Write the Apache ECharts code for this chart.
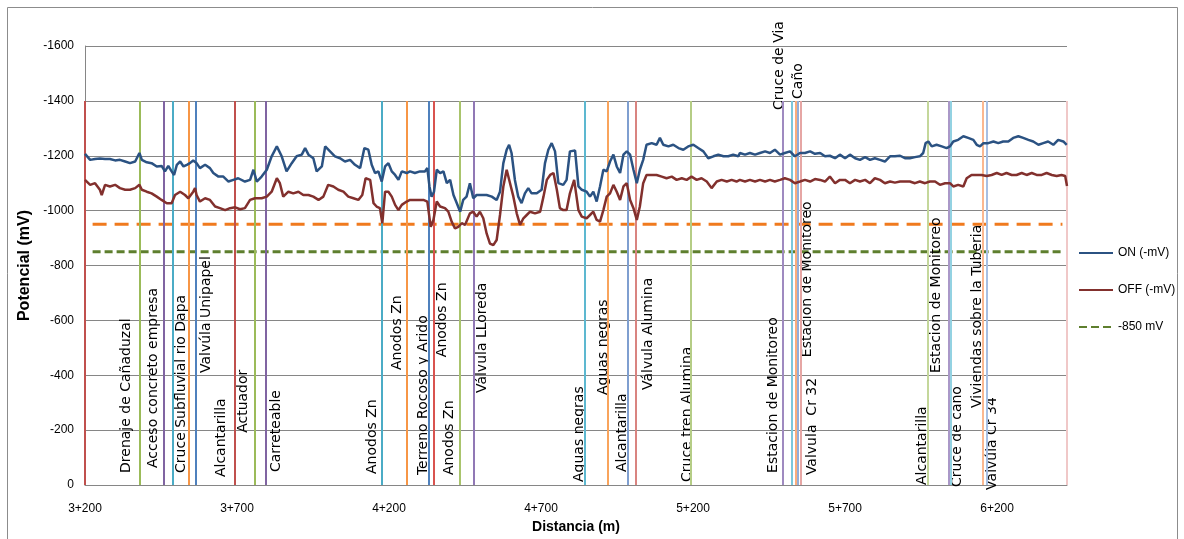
<!DOCTYPE html>
<html>
<head>
<meta charset="utf-8">
<script src="https://cdn.jsdelivr.net/npm/echarts@6/dist/echarts.min.js"></script>
<style>
html,body{margin:0;padding:0;background:#fff;}
#chart{width:1184px;height:539px;}
</style>
</head>
<body>
<div id="chart"></div>
<script>
// ---- Data (distance in metres from 0+000, potential magnitude in mV) ----
const onX = [3200,3217,3233,3249,3266,3282,3299,3315,3332,3348,3365,3379,3387,3403,3419,3436,3452,3463,3474,3485,3493,3502,3513,3524,3535,3545,3556,3567,3578,3595,3611,3622,3639,3655,3672,3688,3704,3726,3743,3754,3765,3781,3798,3814,3831,3847,3863,3880,3896,3913,3924,3935,3951,3962,3979,3990,4006,4022,4039,4055,4072,4088,4105,4119,4132,4143,4154,4165,4176,4187,4198,4209,4220,4231,4242,4258,4269,4285,4302,4318,4326,4333,4340,4348,4357,4368,4379,4390,4401,4412,4423,4434,4444,4455,4466,4477,4488,4505,4521,4538,4554,4565,4576,4587,4595,4603,4614,4625,4636,4647,4658,4669,4686,4702,4713,4724,4735,4746,4757,4773,4784,4795,4812,4823,4834,4850,4861,4872,4883,4894,4905,4916,4927,4938,4949,4960,4971,4982,4993,5004,5015,5025,5036,5047,5064,5080,5091,5102,5119,5135,5152,5168,5184,5201,5217,5234,5250,5267,5283,5300,5316,5332,5349,5354,5371,5387,5404,5420,5437,5453,5469,5486,5502,5519,5535,5552,5568,5585,5601,5618,5634,5650,5667,5683,5700,5716,5733,5749,5766,5782,5798,5815,5831,5848,5864,5881,5897,5913,5930,5946,5957,5965,5974,5985,6001,6018,6034,6045,6056,6072,6089,6105,6122,6133,6144,6155,6171,6188,6204,6220,6237,6253,6270,6286,6303,6319,6336,6352,6368,6385,6401,6418,6429];
const onY = [1207,1185,1188,1190,1188,1188,1183,1185,1179,1173,1179,1210,1185,1176,1173,1161,1163,1143,1163,1143,1130,1167,1179,1161,1167,1173,1183,1173,1155,1167,1155,1137,1124,1124,1106,1112,1118,1106,1112,1149,1106,1124,1149,1198,1234,1198,1143,1173,1198,1204,1228,1204,1191,1143,1161,1234,1216,1198,1191,1179,1185,1167,1155,1228,1222,1167,1137,1143,1106,1161,1173,1143,1130,1112,1143,1137,1143,1137,1143,1143,1155,1088,1051,1069,1149,1137,1143,1100,1112,1057,1027,996,1039,1051,1100,1045,1057,1057,1057,1051,1039,1069,1173,1222,1240,1210,1112,1051,1027,1063,1082,1063,1063,1076,1173,1222,1246,1216,1100,1094,1112,1216,1219,1088,1076,1069,1051,1069,1033,1088,1149,1143,1179,1204,1161,1137,1204,1216,1204,1149,1100,1149,1185,1240,1246,1240,1265,1240,1234,1240,1228,1222,1234,1240,1228,1216,1191,1198,1204,1198,1198,1204,1198,1210,1204,1210,1204,1210,1216,1210,1222,1204,1210,1216,1198,1210,1210,1216,1207,1210,1198,1200,1191,1204,1191,1204,1191,1185,1195,1185,1191,1185,1179,1198,1198,1200,1191,1191,1195,1198,1210,1246,1252,1234,1240,1234,1228,1234,1252,1258,1271,1265,1258,1240,1234,1246,1246,1252,1246,1252,1252,1265,1271,1265,1258,1252,1240,1246,1252,1240,1258,1252,1240];

const offX = [3200,3217,3233,3249,3255,3266,3282,3299,3315,3332,3348,3365,3379,3387,3403,3419,3436,3452,3469,3485,3496,3513,3529,3540,3556,3562,3567,3578,3595,3611,3628,3644,3661,3677,3694,3710,3726,3743,3759,3781,3798,3814,3831,3841,3852,3869,3885,3902,3918,3935,3951,3968,3984,4000,4017,4033,4050,4066,4083,4099,4112,4123,4138,4149,4159,4170,4178,4187,4198,4209,4220,4231,4242,4258,4269,4291,4313,4326,4337,4346,4357,4368,4384,4395,4406,4417,4428,4439,4450,4466,4477,4488,4499,4510,4521,4532,4543,4554,4565,4576,4587,4598,4609,4620,4631,4642,4653,4664,4680,4697,4708,4719,4730,4741,4752,4762,4773,4784,4795,4809,4823,4834,4850,4861,4872,4883,4894,4905,4916,4927,4938,4949,4960,4971,4982,4993,5004,5015,5025,5036,5047,5064,5080,5097,5113,5130,5146,5163,5179,5195,5212,5228,5245,5261,5278,5294,5311,5327,5343,5354,5371,5387,5404,5420,5437,5453,5469,5486,5502,5519,5535,5552,5568,5585,5601,5618,5634,5650,5667,5683,5700,5716,5733,5749,5766,5782,5798,5815,5831,5848,5864,5881,5897,5913,5930,5946,5963,5979,5996,6012,6029,6045,6056,6072,6089,6100,6116,6133,6149,6166,6182,6199,6215,6231,6248,6264,6281,6297,6314,6330,6347,6363,6380,6396,6412,6424,6430];
const offY = [1112,1094,1100,1076,1057,1094,1088,1094,1082,1076,1076,1082,1094,1076,1069,1063,1051,1039,1027,1027,1057,1069,1057,1045,1069,1082,1057,1033,1045,1039,1015,1009,1002,1009,1012,1005,1009,1039,1045,1045,1051,1069,1118,1100,1051,1069,1063,1069,1057,1057,1051,1039,1051,1094,1088,1076,1069,1051,1045,1039,1057,1118,1112,1027,1015,1009,954,1069,1069,1051,1021,1002,1021,1033,1039,1039,1039,1033,941,966,1033,1015,1009,996,960,935,941,954,948,990,996,978,996,972,917,880,874,893,984,1088,1149,1100,1051,990,948,972,984,996,990,996,1051,1112,1130,1137,1076,1009,1002,1002,1063,1112,1002,978,972,984,996,966,960,1002,1051,1063,1094,1069,1039,1088,1100,1039,1009,966,1015,1100,1130,1130,1130,1124,1118,1124,1112,1118,1112,1124,1112,1118,1106,1082,1106,1112,1106,1112,1106,1112,1106,1112,1106,1112,1106,1112,1106,1112,1118,1112,1100,1106,1112,1106,1115,1112,1106,1124,1100,1112,1112,1100,1112,1106,1112,1100,1118,1112,1100,1106,1102,1106,1106,1106,1100,1106,1100,1106,1106,1094,1100,1100,1088,1094,1088,1118,1130,1130,1130,1126,1130,1137,1130,1137,1130,1130,1137,1130,1137,1130,1130,1137,1130,1126,1130,1126,1090];

// reference levels (mV magnitude) and their drawn extent
const refX = [3225, 6415];
const critLevel = 850;
const orangeLevel = 950;

// vertical event markers (distance in m), top of markers (mV)
const markerX = [3200,3381,3460,3489,3542,3565,3693,3759,3795,4177,4259,4331,4348,4433,4479,4845,4920,4986,5012,5193,5496,5525,5538,5545,5555,5973,6042,6048,6154,6167,6430];
const markerColor = ['#C0504D','#9BBB59','#8064A2','#4BACC6','#F79646','#4F81BD','#C0504D','#9BBB59','#8064A2','#4BACC6','#F79646','#4F81BD','#D9534F','#A9C46C','#9178B5','#5DB8D0','#F9A45C','#7F9FD0','#D98480','#B5CD85','#9F8AC0','#7CC8DC','#FAAE7C','#92AEDA','#E6A6A4','#C4D79B','#AA98C8','#93D2E2','#FBB890','#A7BFE3','#F0C8C8'];
const markerTop = 1400;

// event labels: position (m), start level of the vertical text (mV), text
const labelX = [3335,3424,3516,3598,3647,3720,3831,4144,4229,4312,4377,4400,4506,4825,4904,4966,5052,5180,5463,5483,5545,5575,5594,5953,5999,6068,6134,6186];
const labelY = [44,62,44,408,29,190,47,40,419,36,466,36,335,11,328,47,346,11,44,1367,1407,466,36,0,408,-7,281,-18];
const labelText = ['Drenaje de Cañaduzal','Acceso concreto empresa','Cruce Subfluvial rio Dapa','Valvúla Unipapel','Alcantarilla','Actuador','Carreteable','Anodos Zn','Anodos Zn','Terreno Rocoso y Arido','Anodos Zn','Anodos Zn','Válvula LLoreda','Aguas negras','Aguas negras','Alcantarilla','Válvula Alumina','Cruce tren Alumina','Estacion de Monitoreo','Cruce de Via','Caño','Estacion de Monitoreo','Valvula  Cr 32','Alcantarilla','Estacion de Monitoreo','Cruce de caño','Viviendas sobre la Tuberia','Valvúla Cr 34'];

const xTicks = {min: 3200, max: 6430, interval: 500};
const yTicks = {min: 0, max: 1600, interval: 200};

// ---- Build ----
const zip = (xs, ys) => xs.map((x, i) => [x, ys[i]]);
const chart = echarts.init(document.getElementById('chart'), null, {renderer: 'canvas'});
const axisFont = {fontFamily: 'Liberation Sans, Arial, sans-serif', fontSize: 12, color: '#000'};

const markLines = markerX.map((x, i) => [
  {coord: [x, 0], lineStyle: {color: markerColor[i], width: 2, type: 'solid'}},
  {coord: [x, markerTop]}
]);

const option = {
  animation: false,
  graphic: [{
    type: 'rect', shape: {x: 7.5, y: 7.5, width: 1170, height: 545},
    style: {fill: 'none', stroke: '#8C8C8C', lineWidth: 1}, silent: true
  }],
  grid: {left: 85, right: 117, top: 46, bottom: 54},
  legend: {
    orient: 'vertical', left: 1078, top: 247, padding: 0, itemWidth: 34, itemHeight: 14, itemGap: 25,
    data: ['ON (-mV)', 'OFF (-mV)', '-850 mV'],
    itemStyle: {opacity: 0},
    textStyle: {fontFamily: 'Liberation Sans, Arial, sans-serif', fontSize: 12, color: '#000'}
  },
  xAxis: {
    type: 'value', min: xTicks.min, max: xTicks.max, interval: xTicks.interval,
    name: 'Distancia (m)', nameLocation: 'middle', nameGap: 35,
    nameTextStyle: {fontFamily: 'Liberation Sans, Arial, sans-serif', fontSize: 14, fontWeight: 'bold', color: '#000'},
    axisLine: {show: true, lineStyle: {color: '#868686', width: 1}},
    axisTick: {show: false},
    splitLine: {show: false},
    axisLabel: Object.assign({}, axisFont, {
      margin: 18, showMaxLabel: false,
      formatter: v => ((v - xTicks.min) % xTicks.interval === 0) ? (Math.floor(v / 1000) + '+' + String(v % 1000).padStart(3, '0')) : ''
    })
  },
  yAxis: {
    type: 'value', min: yTicks.min, max: yTicks.max, interval: yTicks.interval,
    name: 'Potencial (mV)', nameLocation: 'middle', nameGap: 44,
    nameTextStyle: {fontFamily: 'Liberation Sans, Arial, sans-serif', fontSize: 16, fontWeight: 'bold', color: '#000'},
    axisLine: {show: true, lineStyle: {color: '#868686', width: 1}},
    axisTick: {show: false},
    splitLine: {show: true, lineStyle: {color: '#868686', width: 1}},
    axisLabel: Object.assign({}, axisFont, {margin: 11, formatter: v => v === 0 ? '0' : '-' + v})
  },
  series: [
    {
      name: 'events', type: 'scatter', symbol: 'circle', symbolSize: 1,
      itemStyle: {color: 'rgba(0,0,0,0)'}, silent: true, clip: false, z: 3,
      data: labelX.map((x, i) => [x, labelY[i], labelText[i]]),
      label: {
        show: true, position: 'inside', rotate: 90, align: 'left', verticalAlign: 'middle',
        formatter: p => p.value[2],
        fontFamily: 'DejaVu Sans, Verdana, sans-serif', fontSize: 14, color: '#000', opacity: 1
      },
      labelLayout: {hideOverlap: false},
      markLine: {silent: true, symbol: ['none', 'none'], label: {show: false}, data: markLines, z: 4}
    },
    {
      name: '950', type: 'line', symbol: 'none', silent: true, z: 2,
      data: refX.map(x => [x, orangeLevel]),
      lineStyle: {color: '#F07A1E', width: 3, type: [14, 8]}
    },
    {
      name: '-850 mV', type: 'line', symbol: 'none', z: 2,
      data: refX.map(x => [x, critLevel]),
      itemStyle: {color: '#5E7F2E'},
      lineStyle: {color: '#5E7F2E', width: 3, type: [8, 4]}
    },
    {
      name: 'ON (-mV)', type: 'line', symbol: 'none', z: 5,
      data: zip(onX, onY),
      itemStyle: {color: '#2B5282'},
      lineStyle: {color: '#2B5282', width: 2.5}
    },
    {
      name: 'OFF (-mV)', type: 'line', symbol: 'none', z: 5,
      data: zip(offX, offY),
      itemStyle: {color: '#82302D'},
      lineStyle: {color: '#82302D', width: 2.5}
    }
  ]
};
chart.setOption(option);
</script>
</body>
</html>
